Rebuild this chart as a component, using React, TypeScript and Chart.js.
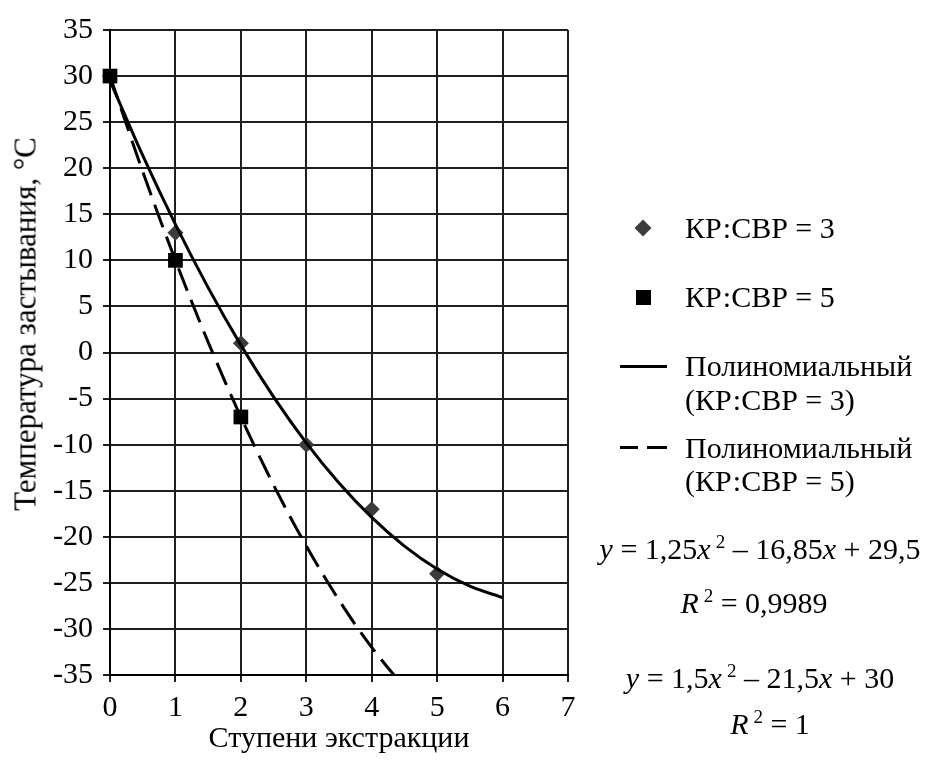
import React, { useEffect, useRef } from "react";
import { Chart, registerables } from "chart.js";

Chart.register(...registerables);

// Measured points
const stagesA = [0, 1, 2, 3, 4, 5];
const tempA = [30, 13, 1, -10, -17, -24];
const stagesB = [0, 1, 2];
const tempB = [30, 10, -7];

// Polynomial trend lines
const trendAX = [0, 0.5, 1, 1.5, 2, 2.5, 3, 3.5, 4, 4.5, 5, 5.5, 6];
const trendAY = [29.5, 21.39, 13.9, 7.04, 0.8, -4.81, -9.8, -14.16, -17.9, -21.01, -23.5, -25.36, -26.6];
const trendBX = [0, 0.5, 1, 1.5, 2, 2.5, 3, 3.5, 4, 4.5];
const trendBY = [30, 19.63, 10, 1.13, -7, -14.38, -21, -26.88, -32, -36.38];

const xTitle = "Ступени экстракции";
const yTitle = "Температура застывания, °С";
const seriesA = "КР:СВР = 3";
const seriesB = "КР:СВР = 5";
const trendLabel = "Полиномиальный";

const FONT = '"Liberation Serif", "Times New Roman", serif';

const zip = (xs: number[], ys: number[]) => xs.map((x, i) => ({ x, y: ys[i] }));

export default function App() {
  const ref = useRef<HTMLCanvasElement | null>(null);

  useEffect(() => {
    if (!ref.current) return;
    const chart = new Chart(ref.current, {
      type: "scatter",
      data: {
        datasets: [
          {
            label: "Полиномиальный (" + seriesA + ")",
            data: zip(trendAX, trendAY),
            showLine: true,
            borderColor: "#000",
            borderWidth: 3,
            pointRadius: 0,
            cubicInterpolationMode: "monotone",
            order: 0,
          },
          {
            label: "Полиномиальный (" + seriesB + ")",
            data: zip(trendBX, trendBY),
            showLine: true,
            borderColor: "#000",
            borderWidth: 3,
            borderDash: [24, 10],
            pointRadius: 0,
            cubicInterpolationMode: "monotone",
            order: 0,
          },
          {
            label: seriesB,
            data: zip(stagesB, tempB),
            pointStyle: "rect",
            pointRadius: 10.4,
            backgroundColor: "#000",
            borderColor: "#000",
            borderWidth: 0,
            clip: false,
            order: 1,
          },
          {
            label: seriesA,
            data: zip(stagesA, tempA),
            pointStyle: "rectRot",
            pointRadius: 8,
            backgroundColor: "#3c3c3c",
            borderColor: "#3c3c3c",
            borderWidth: 0,
            clip: false,
            order: 2,
          },
        ],
      },
      options: {
        animation: false,
        responsive: false,
        maintainAspectRatio: false,
        layout: { padding: { top: 30, right: 364, bottom: 0, left: 0 } },
        plugins: { legend: { display: false }, tooltip: { enabled: false } },
        scales: {
          x: {
            type: "linear",
            min: 0,
            max: 7,
            ticks: {
              stepSize: 1,
              color: "#000",
              font: { family: FONT, size: 30 },
              padding: 8,
              callback: (v: any) => String(v),
            },
            grid: { color: "#1e1e1e", lineWidth: 2, tickLength: 7, tickColor: "#1e1e1e" },
            border: { color: "#000", width: 2 },
            title: {
              display: true,
              text: xTitle,
              color: "#000",
              font: { family: FONT, size: 30 },
              padding: { top: 0, bottom: 3 },
            },
            afterFit: (s: any) => {
              s.height = 85;
            },
          },
          y: {
            type: "linear",
            min: -35,
            max: 35,
            ticks: {
              stepSize: 5,
              color: "#000",
              font: { family: FONT, size: 30 },
              padding: 10,
              callback: (v: any) => String(v),
            },
            grid: { color: "#1e1e1e", lineWidth: 2, tickLength: 7, tickColor: "#1e1e1e" },
            border: { color: "#000", width: 2 },
            afterFit: (s: any) => {
              s.width = 110;
            },
          },
        },
      },
    });
    return () => chart.destroy();
  }, []);

  const text: React.CSSProperties = {
    position: "absolute",
    fontFamily: FONT,
    fontSize: 30,
    color: "#000",
    whiteSpace: "nowrap",
    lineHeight: 1,
  };
  const sup: React.CSSProperties = { fontSize: 19, verticalAlign: "0.55em", marginLeft: 5 };

  return (
    <div style={{ position: "fixed", left: 0, top: 0, width: 932, height: 760, background: "#fff" }}>
      <canvas ref={ref} width={932} height={760} style={{ position: "absolute", left: 0, top: 0 }} />
      <div
        style={{
          ...text,
          fontSize: 31,
          left: 25,
          top: 324,
          transform: "translate(-50%, -50%) rotate(-90deg)",
        }}
      >
        {yTitle}
      </div>

      {/* Legend */}
      <div
        style={{
          position: "absolute",
          left: 643 - 6,
          top: 228 - 6,
          width: 12,
          height: 12,
          background: "#3c3c3c",
          transform: "rotate(45deg)",
        }}
      />
      <div style={{ ...text, left: 685, top: 228, transform: "translateY(-50%)" }}>{seriesA}</div>
      <div style={{ position: "absolute", left: 636, top: 290, width: 15, height: 15, background: "#000" }} />
      <div style={{ ...text, left: 685, top: 297, transform: "translateY(-50%)" }}>{seriesB}</div>

      <div style={{ position: "absolute", left: 620, top: 365, width: 47, height: 3, background: "#000" }} />
      <div style={{ ...text, left: 685, top: 366, transform: "translateY(-50%)" }}>{trendLabel}</div>
      <div style={{ ...text, left: 685, top: 400, transform: "translateY(-50%)" }}>({seriesA})</div>

      <div style={{ position: "absolute", left: 620, top: 446, width: 18, height: 3, background: "#000" }} />
      <div style={{ position: "absolute", left: 647, top: 446, width: 20, height: 3, background: "#000" }} />
      <div style={{ ...text, left: 685, top: 448, transform: "translateY(-50%)" }}>{trendLabel}</div>
      <div style={{ ...text, left: 685, top: 481, transform: "translateY(-50%)" }}>({seriesB})</div>

      {/* Trend equations */}
      <div style={{ ...text, left: 760, top: 548, transform: "translate(-50%, -50%)" }}>
        <i>y</i> = 1,25<i>x</i>
        <span style={sup}>2</span> – 16,85<i>x</i> + 29,5
      </div>
      <div style={{ ...text, left: 754, top: 602, transform: "translate(-50%, -50%)" }}>
        <i>R</i>
        <span style={sup}>2</span> = 0,9989
      </div>
      <div style={{ ...text, left: 760, top: 677, transform: "translate(-50%, -50%)" }}>
        <i>y</i> = 1,5<i>x</i>
        <span style={sup}>2</span> – 21,5<i>x</i> + 30
      </div>
      <div style={{ ...text, left: 770, top: 723, transform: "translate(-50%, -50%)" }}>
        <i>R</i>
        <span style={sup}>2</span> = 1
      </div>
    </div>
  );
}
